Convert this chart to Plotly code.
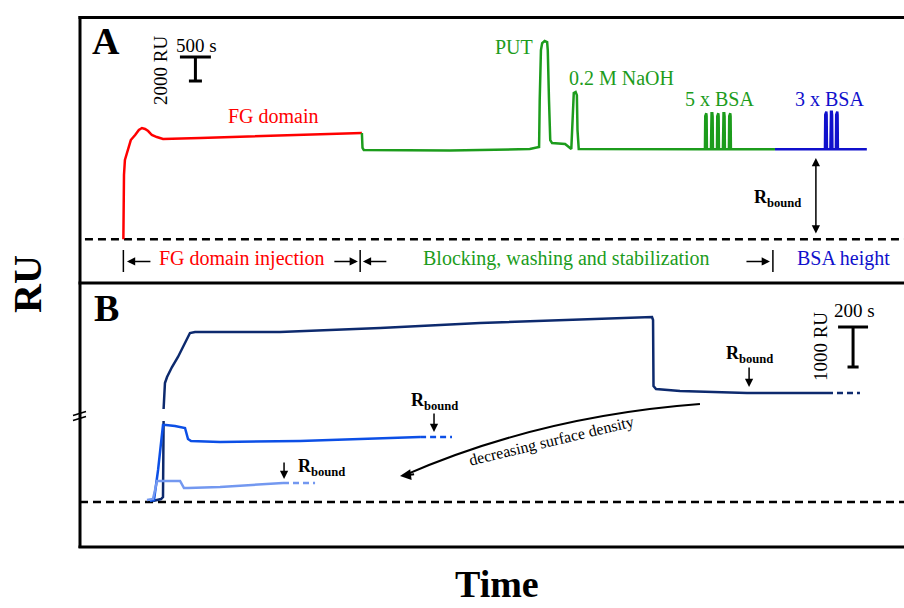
import plotly.graph_objects as go

W, H = 904, 608
SERIF = "Liberation Serif"

# ---------------- Panel A: immobilisation sensorgram (time in s, RU) ----------------
fg_t = [0, 0, 10, 25, 75, 120, 190, 250, 300, 350, 400, 460, 540, 640, 1240, 2200, 3170, 3850]
fg_ru = [0, 3270, 5350, 6600, 7600, 8260, 8680, 9100, 9260, 9180, 9010, 8680, 8510, 8350,
         8430, 8600, 8720, 8850]

block_t = [3850, 3860, 3880, 5270, 6560, 6640, 6710, 6720, 6740, 6760, 6800, 6840, 6850,
           6870, 6890, 6920, 7130, 7230, 7250, 7270, 7300, 7320, 7330, 7350, 9300]
block_ru = [8850, 7600, 7430, 7390, 7510, 7600, 7680, 11600, 15760, 16340, 16510, 16420,
            15760, 11600, 8260, 8010, 7930, 7510, 9920, 12180, 12260, 12000, 9090, 7510, 7500]

baseline_ru = 7500
bsa5_centres = [9403, 9500, 9597, 9693, 9790]
bsa5_peak = 10490
block_end_t = 10517

bsa3_centres = [11340, 11428, 11517]
bsa3_peak = 10620
bsa_end_t = 12000

# ---------------- Panel B: binding responses at three surface densities ----------------
navy_t = [-13, 41, 54, 58, None, 58, 61, 67, 81, 114, 154, 188, 214, 234, 268, 835, 1503,
          2170, 3318, 3325, 3328, 3345, 3505, 3952, 4486]
navy_ru = [25, 75, 125, 2025, None, 2325, 2800, 2975, 3125, 3375, 3625, 3875, 4100, 4225,
           4250, 4250, 4350, 4475, 4625, 4550, 2900, 2825, 2775, 2725, 2725]
navy_tail_t = [4486, 4706]
navy_tail_ru = [2725, 2725]

blue_t = [-33, -6, 21, 41, 54, 74, 134, 201, 211, 221, 241, 435, 969, 1723, 1770]
blue_ru = [25, 50, 800, 1550, 1925, 1925, 1900, 1850, 1725, 1575, 1525, 1500, 1525, 1625, 1625]
blue_tail_t = [1770, 1983]
blue_tail_ru = [1625, 1625]

light_t = [-53, -13, 1, 14, 168, 181, 194, 221, 435, 855]
light_ru = [50, 75, 300, 525, 525, 425, 350, 350, 375, 475]
light_tail_t = [855, 1069]
light_tail_ru = [475, 475]

RED = "#ff0000"
GREEN = "#1c9c1c"
BLUE_A = "#1010cc"
NAVY = "#0d2a6e"
BLUE = "#0c4fe6"
LIGHT = "#7398f0"


def pulses(centres, peak, base):
    """Outline of a train of narrow injection pulses."""
    xs, ys = [], []
    for c in centres:
        xs += [c - 16, c - 11, c - 6, c + 6, c + 11, c + 16]
        ys += [base, peak - 250, peak, peak, peak - 250, base]
    return xs, ys


fig = go.Figure()

# Panel A traces
fig.add_trace(go.Scatter(x=[-620, 12600], y=[0, 0], mode="lines",
                         line=dict(color="black", width=2.5, dash="8px,5px"),
                         xaxis="x", yaxis="y", hoverinfo="skip"))
fig.add_trace(go.Scatter(x=fg_t, y=fg_ru, mode="lines", line=dict(color=RED, width=2.5),
                         xaxis="x", yaxis="y"))
px5, py5 = pulses(bsa5_centres, bsa5_peak, baseline_ru)
fig.add_trace(go.Scatter(x=block_t + px5 + [block_end_t], y=block_ru + py5 + [baseline_ru],
                         mode="lines", line=dict(color=GREEN, width=2.5),
                         xaxis="x", yaxis="y"))
px3, py3 = pulses(bsa3_centres, bsa3_peak, baseline_ru)
fig.add_trace(go.Scatter(x=[block_end_t] + px3 + [bsa_end_t],
                         y=[baseline_ru] + py3 + [baseline_ru],
                         mode="lines", line=dict(color=BLUE_A, width=2.5),
                         xaxis="x", yaxis="y"))

# Panel B traces
fig.add_trace(go.Scatter(x=[-500, 5000], y=[0, 0], mode="lines",
                         line=dict(color="black", width=2.5, dash="8px,5px"),
                         xaxis="x2", yaxis="y2", hoverinfo="skip"))
for t, r, tt, tr, col in [(navy_t, navy_ru, navy_tail_t, navy_tail_ru, NAVY),
                          (blue_t, blue_ru, blue_tail_t, blue_tail_ru, BLUE),
                          (light_t, light_ru, light_tail_t, light_tail_ru, LIGHT)]:
    fig.add_trace(go.Scatter(x=t, y=r, mode="lines", line=dict(color=col, width=2.5),
                             connectgaps=False, xaxis="x2", yaxis="y2"))
    fig.add_trace(go.Scatter(x=tt, y=tr, mode="lines",
                             line=dict(color=col, width=2.5, dash="6px,4px"),
                             xaxis="x2", yaxis="y2"))


def py2p(py):
    return 1 - py / H


def px2p(px):
    return px / W


shapes = []
# frame
for (x0, y0, x1, y1) in [(80, 16, 80, 548), (78.5, 17.5, 906, 17.5),
                         (78.5, 283, 906, 283), (78.5, 547, 906, 547)]:
    shapes.append(dict(type="line", xref="paper", yref="paper",
                       x0=px2p(x0), y0=py2p(y0), x1=px2p(x1), y1=py2p(y1),
                       line=dict(color="black", width=3)))
# axis break marks
for (x0, y0, x1, y1) in [(73, 415.5, 86, 411.5), (73, 420.5, 86, 416.5)]:
    shapes.append(dict(type="line", xref="paper", yref="paper",
                       x0=px2p(x0), y0=py2p(y0), x1=px2p(x1), y1=py2p(y1),
                       line=dict(color="black", width=1.5)))

# scale bars (data units)
SCALE_A_T, SCALE_A_RU = 500, 2000
a_x0, a_top = 913, 15180
shapes += [
    dict(type="line", xref="x", yref="y", x0=a_x0, x1=a_x0 + SCALE_A_T, y0=a_top, y1=a_top,
         line=dict(color="black", width=3)),
    dict(type="line", xref="x", yref="y", x0=a_x0 + SCALE_A_T / 2, x1=a_x0 + SCALE_A_T / 2,
         y0=a_top, y1=a_top - SCALE_A_RU, line=dict(color="black", width=3)),
    dict(type="line", xref="x", yref="y", x0=a_x0 + SCALE_A_T / 2 - 105,
         x1=a_x0 + SCALE_A_T / 2 + 105, y0=a_top - SCALE_A_RU, y1=a_top - SCALE_A_RU,
         line=dict(color="black", width=3)),
]
SCALE_B_T, SCALE_B_RU = 200, 1000
b_x0, b_top = 4560, 4375
shapes += [
    dict(type="line", xref="x2", yref="y2", x0=b_x0, x1=b_x0 + SCALE_B_T, y0=b_top, y1=b_top,
         line=dict(color="black", width=3)),
    dict(type="line", xref="x2", yref="y2", x0=b_x0 + SCALE_B_T / 2, x1=b_x0 + SCALE_B_T / 2,
         y0=b_top, y1=b_top - SCALE_B_RU, line=dict(color="black", width=3)),
    dict(type="line", xref="x2", yref="y2", x0=b_x0 + SCALE_B_T / 2 - 37,
         x1=b_x0 + SCALE_B_T / 2 + 37, y0=b_top - SCALE_B_RU, y1=b_top - SCALE_B_RU,
         line=dict(color="black", width=3)),
]

# phase boundaries on panel A
phase_edges = [0, 3822, 10484]
for t in phase_edges:
    shapes.append(dict(type="line", xref="x", yref="y", x0=t, x1=t, y0=-900, y1=-2735,
                       line=dict(color="black", width=1.5)))

# curved arrow in panel B
shapes.append(dict(type="path", xref="x2", yref="y2",
                   path="M 3638,2450 Q 2570,2150 1660,660",
                   line=dict(color="black", width=2)))

ann = []


def text(x, y, s, size=20, color="black", xref="x", yref="y", angle=0, **kw):
    ann.append(dict(x=x, y=y, xref=xref, yref=yref, text=s, showarrow=False,
                    font=dict(family=SERIF, size=size, color=color), textangle=angle,
                    xanchor="center", yanchor="middle", **kw))


def arrow(x, y, ax, ay, xref="x", yref="y", side="end", width=1.5):
    ann.append(dict(x=x, y=y, ax=ax, ay=ay, xref=xref, yref=yref,
                    axref=xref, ayref=yref, text="", showarrow=True,
                    arrowhead=2, arrowsize=1.1, arrowwidth=width, arrowcolor="black",
                    arrowside=side, standoff=0, startstandoff=0))


# panel letters and axis titles
text(px2p(106), py2p(41), "<b>A</b>", size=38, xref="paper", yref="paper")
text(px2p(106), py2p(308), "<b>B</b>", size=38, xref="paper", yref="paper")
text(px2p(27), py2p(284), "<b>RU</b>", size=40, xref="paper", yref="paper", angle=-90)
text(px2p(497), py2p(584), "<b>Time</b>", size=38, xref="paper", yref="paper")

# panel A labels
text(1180, 16175, "500 s", size=19)
text(590, 14090, "2000 RU", size=19, angle=-90)
text(2418, 10300, "FG domain", size=20, color=RED)
text(6312, 16050, "PUT", size=20, color=GREEN)
text(8040, 13450, "0.2 M NaOH", size=20, color=GREEN)
text(9620, 11700, "5 x BSA", size=20, color=GREEN)
text(11397, 11700, "3 x BSA", size=20, color=BLUE_A)
text(1914, -1650, "FG domain injection", size=20, color=RED)
text(7160, -1650, "Blocking, washing and stabilization", size=20, color=GREEN)
text(11630, -1650, "BSA height", size=20, color=BLUE_A)
text(10557, 3432, "<b>R<sub>bound</sub></b>", size=18)

arrow(58, -1858, 461, -1858)
arrow(3785, -1858, 3381, -1858)
arrow(3866, -1858, 4269, -1858)
arrow(10436, -1858, 10033, -1858)
arrow(11178, 6764, 11178, 350, side="end+start")

# panel B labels
text(4667, 4800, "200 s", size=19, xref="x2", yref="y2")
text(4440, 3875, "1000 RU", size=19, xref="x2", yref="y2", angle=-90)
text(3966, 3700, "<b>R<sub>bound</sub></b>", size=18, xref="x2", yref="y2")
text(1863, 2525, "<b>R<sub>bound</sub></b>", size=18, xref="x2", yref="y2")
text(1109, 875, "<b>R<sub>bound</sub></b>", size=18, xref="x2", yref="y2")
arrow(3966, 2875, 3966, 3400, xref="x2", yref="y2")
arrow(1863, 1750, 1863, 2250, xref="x2", yref="y2")
arrow(862, 575, 862, 1025, xref="x2", yref="y2")
arrow(1636, 650, 1740, 700, xref="x2", yref="y2", width=2)
text(2650, 1525, "decreasing surface density", size=16, xref="x2", yref="y2", angle=-13.5)

axis_off = dict(visible=False, showgrid=False, zeroline=False, fixedrange=True)
fig.update_layout(
    width=W, height=H, margin=dict(l=0, r=0, t=0, b=0),
    paper_bgcolor="white", plot_bgcolor="white", showlegend=False,
    xaxis=dict(domain=[80 / W, 1], range=[-700, 12600], anchor="y", **axis_off),
    yaxis=dict(domain=[py2p(283), py2p(17.5)], range=[-3650, 18470], anchor="x", **axis_off),
    xaxis2=dict(domain=[80 / W, 1], range=[-500, 5000], anchor="y2", **axis_off),
    yaxis2=dict(domain=[py2p(547), py2p(283)], range=[-1125, 5475], anchor="x2", **axis_off),
    shapes=shapes, annotations=ann,
)

fig.write_html("out.html")
